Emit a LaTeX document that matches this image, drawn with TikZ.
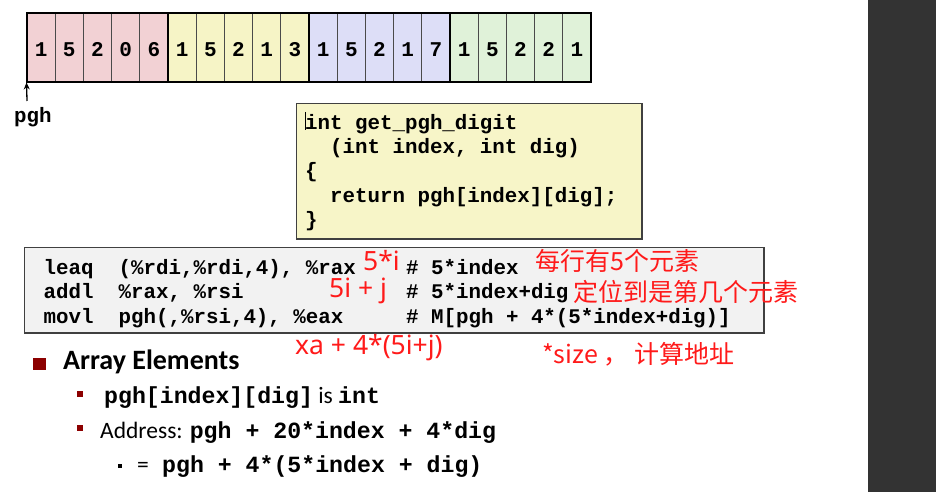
\documentclass[tikz,border=0pt]{standalone}
\usepackage{fontspec}
\setmainfont{Carlito}
\newfontfamily\monof{Liberation Mono}
\newfontfamily\cjkf{Noto Sans CJK SC}
\newfontfamily\latf{Noto Sans}
\usetikzlibrary{arrows.meta}
\definecolor{rowA}{HTML}{F2D1D4}
\definecolor{rowB}{HTML}{F6F4C6}
\definecolor{rowC}{HTML}{DDDEF7}
\definecolor{rowD}{HTML}{E0F2D9}
\definecolor{codefill}{HTML}{F7F5C8}
\definecolor{asmfill}{HTML}{F2F2F2}
\definecolor{boxline}{HTML}{404040}
\definecolor{cellline}{HTML}{4A4A4A}
\definecolor{annred}{HTML}{FF1A1A}
\definecolor{bulred}{HTML}{8C0000}
\definecolor{panel}{HTML}{333333}
\newcommand{\cdA}{\monof\bfseries\fontsize{20.8}{24}\selectfont}
\newcommand{\cdB}{\monof\bfseries\fontsize{23.2}{26}\selectfont}
\begin{document}
\begin{tikzpicture}[x=1pt,y=-1pt,
  cell/.style={draw=cellline,line width=0.9pt,minimum width=28.2pt,minimum height=69pt,inner sep=0pt,
    font=\monof\bfseries\fontsize{21}{21}\selectfont,text height=18pt,text depth=0pt},
  groupline/.style={draw=black,line width=2pt},
  codebox/.style={draw=boxline,line width=1.4pt,fill=codefill,inner sep=0pt},
  asmbox/.style={draw=boxline,line width=1.4pt,fill=asmfill,inner sep=0pt},
  codetxt/.style={anchor=base west,inner sep=0pt,font=\cdA},
  bodytxt/.style={anchor=base west,inner sep=0pt,font=\fontsize{23.5}{26}\selectfont},
  redtxt/.style={anchor=base west,inner sep=0pt,text=annred,font=\cjkf\fontsize{25}{28}\selectfont},
  redlat/.style={anchor=base west,inner sep=0pt,text=annred,font=\latf\fontsize{26.5}{28}\selectfont},
  ptr/.style={-{Stealth[length=7pt,width=6pt]},line width=1.3pt}
]
\useasboundingbox (0,0) rectangle (936,492);
\fill[white] (0,0) rectangle (936,492);
\fill[panel] (868,0) rectangle (936,492);

% array cells
\foreach \g/\col/\digs in {0/rowA/{1,5,2,0,6},1/rowB/{1,5,2,1,3},2/rowC/{1,5,2,1,7},3/rowD/{1,5,2,2,1}}{
  \foreach \d [count=\k] in \digs {
    \node[cell,fill=\col] (c\g\k) at ({27+(\g*5+\k-1)*28.2+14.1},47.5) {\d};
  }
}
\foreach \g in {0,1,2,3}{
  \draw[groupline] (c\g1.north west) rectangle (c\g5.south east);
}

% pgh pointer
\node[codetxt] (pghlbl) at (14,122) {pgh};
\coordinate (pghfrom) at (27,101);
\draw[ptr] (pghfrom) -- (c01.south west);

% C code box
\node[codebox,minimum width=345.3pt,minimum height=135.7pt] (code) at (469.35,171.15) {};
\draw[line width=1pt,black] (305,112) -- (305,130);
\node[codetxt] (cl1) at (305,129) {int get\_pgh\_digit};
\node[codetxt] (cl2) at (330,153) {(int index, int dig)};
\node[codetxt] (cl3) at (305,177.5) {\{};
\node[codetxt] (cl4) at (330,202) {return pgh[index][dig];};
\node[codetxt] (cl5) at (305,226) {\}};

% assembly box
\node[asmbox,minimum width=739.7pt,minimum height=85.7pt] (asm) at (394.15,290.15) {};
\node[codetxt] (a1m) at (43.5,274) {leaq};
\node[codetxt] (a1o) at (118.5,274) {(\%rdi,\%rdi,4), \%rax};
\node[codetxt] (a1c) at (406,274) {\# 5*index};
\node[codetxt] (a2m) at (43.5,298.5) {addl};
\node[codetxt] (a2o) at (118.5,298.5) {\%rax, \%rsi};
\node[codetxt] (a2c) at (406,298.5) {\# 5*index+dig};
\node[codetxt] (a3m) at (43.5,323) {movl};
\node[codetxt] (a3o) at (118.5,323) {pgh(,\%rsi,4), \%eax};
\node[codetxt] (a3c) at (406,323) {\# M[pgh + 4*(5*index+dig)]};

% red annotations
\node[redlat] (r1) at (363,270) {5*i};
\node[redlat] (r2) at (329,297) {5i + j};
\node[redlat] (r3) at (295,354) {xa + 4*(5i+j)};
\node[redtxt] (r4) at (535,270) {每行有5个元素};
\node[redtxt] (r5) at (573,301) {定位到是第几个元素};
\node[redtxt] (r6) at (542,363) {*size ， 计算地址};

% bullets
\fill[bulred] (33,358) rectangle (46,370);
\node[anchor=base west,inner sep=0pt,font=\bfseries\fontsize{28}{30}\selectfont] (h1) at (63,369) {Array Elements};
\fill[bulred] (77,391) rectangle (83,397);
\node[bodytxt] (b1) at (104,403) {{\cdB pgh[index][dig]} is {\cdB int}};
\fill[bulred] (77,425) rectangle (83,431);
\node[bodytxt] (b2) at (100,438) {Address: {\cdB pgh + 20*index + 4*dig}};
\fill[black] (118,463.5) rectangle (122,467.5);
\node[bodytxt] (b3e) at (137,472) {=};
\node[anchor=base west,inner sep=0pt,font=\cdB] (b3) at (162,472) {pgh + 4*(5*index + dig)};
\end{tikzpicture}
\end{document}
